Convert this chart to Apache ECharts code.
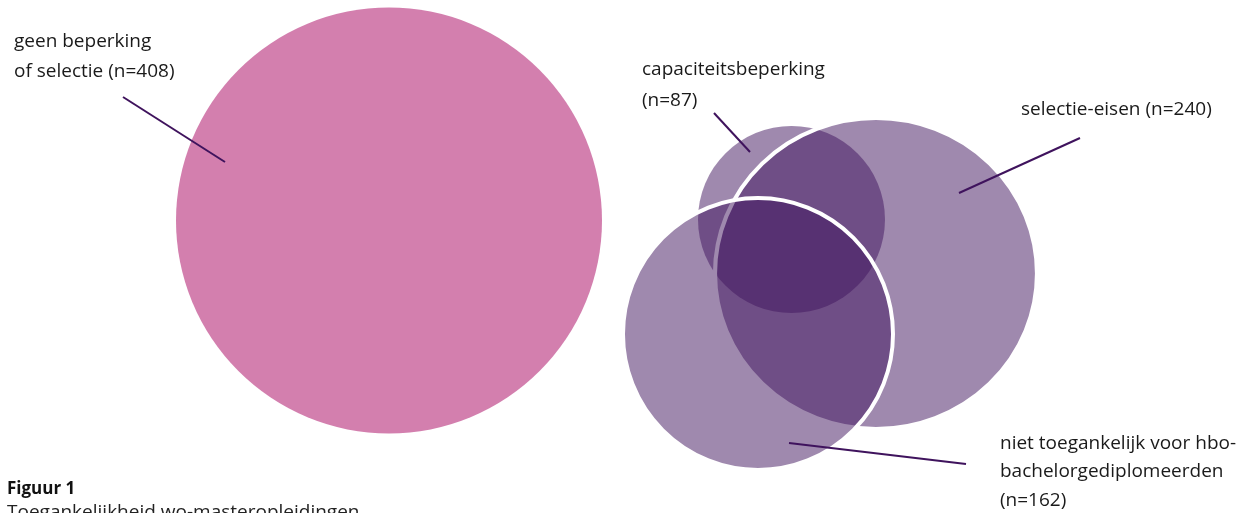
<!DOCTYPE html>
<html>
<head>
<meta charset="utf-8">
<script src="https://cdn.jsdelivr.net/npm/echarts@6/dist/echarts.min.js"></script>
<style>
html,body{margin:0;padding:0;background:#fff;}
#chart{width:1239px;height:513px;}
</style>
</head>
<body>
<div id="chart"></div>
<script>
// Circles: [centerX, centerY, radiusX, radiusY] in page units
const circleNames = ['geen beperking of selectie', 'capaciteitsbeperking', 'selectie-eisen', 'niet toegankelijk voor hbo-bachelorgediplomeerden'];
const circleCounts = [408, 87, 240, 162];
const circleGeom = [
  [389, 220.5, 213, 213],
  [791.5, 219.5, 93.5, 93.5],
  [876, 273.5, 161, 155.5],
  [758, 334, 135, 136]
];
// Leader lines: [x1, y1, x2, y2]
const leaders = [
  [123, 97, 225, 162],
  [714, 113, 750, 152],
  [1080, 138, 959, 193],
  [789, 443, 966, 464]
];
// Labels: [x, y, text]
const labels = [
  [14, 42, 'geen beperking'],
  [14, 72, 'of selectie (n=408)'],
  [642, 70, 'capaciteitsbeperking'],
  [642, 101, '(n=87)'],
  [1021, 110, 'selectie-eisen (n=240)'],
  [1000, 444, 'niet toegankelijk voor hbo-'],
  [1000, 472, 'bachelorgediplomeerden'],
  [1000, 501, '(n=162)']
];
const captionTitle = 'Figuur 1';
const captionText = 'Toegankelijkheid wo-masteropleidingen';

const pink = '#d37fae';
const purpleFill = 'rgba(63,19,93,0.5)';
const lineColor = '#3f135d';
const fontFam = '"Open Sans", "Noto Sans", sans-serif';

const chart = echarts.init(document.getElementById('chart'), null, {renderer: 'canvas'});

const circleData = circleGeom.map((g, i) => ({value: g, name: circleNames[i], n: circleCounts[i]}));

const option = {
  animation: false,
  backgroundColor: '#fff',
  grid: {left: 0, right: 0, top: 0, bottom: 0},
  xAxis: {type: 'value', min: 0, max: 1239, show: false},
  yAxis: {type: 'value', min: 0, max: 513, inverse: true, show: false},
  graphic: [
    {type: 'text', left: 7, top: 481, style: {text: captionTitle, font: 'bold 17px ' + fontFam, fill: '#111'}},
    {type: 'text', left: 7, top: 503, style: {text: captionText, font: '19px ' + fontFam, fill: '#222'}}
  ],
  series: [
    {
      type: 'custom',
      coordinateSystem: 'cartesian2d',
      data: circleData,
      clip: false,
      renderItem: function (params, api) {
        const i = params.dataIndex;
        const c = api.coord([api.value(0), api.value(1)]);
        const rx = api.size([api.value(2), 0])[0];
        const ry = api.size([0, api.value(3)])[1];
        const isPink = i === 0;
        const hasStroke = i >= 2;
        return {
          type: 'circle',
          x: c[0], y: c[1],
          scaleX: rx / ry,
          shape: {cx: 0, cy: 0, r: ry},
          style: {
            fill: isPink ? pink : purpleFill,
            stroke: hasStroke ? '#ffffff' : null,
            lineWidth: hasStroke ? 4 : 0
          }
        };
      }
    },
    {
      type: 'custom',
      coordinateSystem: 'cartesian2d',
      data: leaders,
      clip: false,
      renderItem: function (params, api) {
        const p1 = api.coord([api.value(0), api.value(1)]);
        const p2 = api.coord([api.value(2), api.value(3)]);
        return {
          type: 'line',
          shape: {x1: p1[0], y1: p1[1], x2: p2[0], y2: p2[1]},
          style: {stroke: lineColor, lineWidth: 2}
        };
      }
    },
    {
      type: 'custom',
      coordinateSystem: 'cartesian2d',
      data: labels.map(l => ({value: [l[0], l[1]], text: l[2]})),
      clip: false,
      renderItem: function (params, api) {
        const p = api.coord([api.value(0), api.value(1)]);
        return {
          type: 'text',
          x: p[0], y: p[1],
          style: {
            text: labels[params.dataIndex][2],
            font: '19px ' + fontFam,
            fill: '#1a1a1a',
            textAlign: 'left',
            textVerticalAlign: 'middle'
          }
        };
      }
    }
  ]
};
chart.setOption(option);
</script>
</body>
</html>
